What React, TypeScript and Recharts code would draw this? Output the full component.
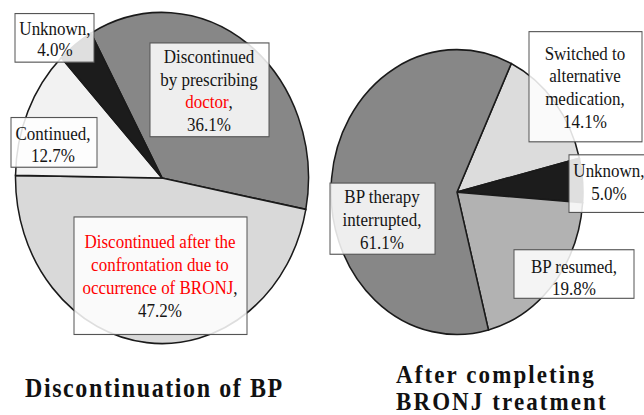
import React from 'react';
import { PieChart, Pie, Cell } from 'recharts';

// ---------- data ----------
const leftNames = [
  'Discontinued by prescribing doctor',
  'Discontinued after the confrontation due to occurrence of BRONJ',
  'Continued',
  'Unknown',
];
const leftValues = [36.1, 47.2, 12.7, 4.0];

const rightNames = [
  'Switched to alternative medication',
  'Unknown',
  'BP resumed',
  'BP therapy interrupted',
];
const rightValues = [14.1, 5.0, 19.8, 61.1];

const leftTitleLines = ['Discontinuation of BP'];
const rightTitleLines = ['After completing', 'BRONJ treatment'];

// label text lines (segments: [text, highlighted])
type Seg = [string, boolean];
const leftLabelLines: Seg[][][] = [
  [[['Discontinued', false]], [['by prescribing', false]], [['doctor', true], [',', false]]],
  [[['Discontinued after the', true]], [['confrontation due to', true]], [['occurrence of BRONJ', true], [',', false]]],
  [[['Continued,', false]]],
  [[['Unknown,', false]]],
];
const rightLabelLines: Seg[][][] = [
  [[['Switched to', false]], [['alternative', false]], [['medication,', false]]],
  [[['Unknown,', false]]],
  [[['BP resumed,', false]]],
  [[['BP therapy', false]], [['interrupted,', false]]],
];

// ---------- styles / layout ----------
const leftColors = ['#878787', '#d9d9d9', '#f2f2f2', '#1c1c1c'];
const rightColors = ['#dcdcdc', '#1c1c1c', '#b2b2b2', '#878787'];

const W = 644;
const H = 367;
const SCALE_Y = 1.13;
const FONT = "'Liberation Serif', 'Times New Roman', Tinos, 'DejaVu Serif', serif";
const fontStyle: React.CSSProperties = { fontFamily: FONT };

const L = { cx: 162, cy: 157.5, r: 146.5, start: 119 };
const R = { cx: 457, cy: 170, r: 126, start: 64.5 };

type Box = { dx: number; dy: number; w: number; h: number; tx: number; fy: number; lh: number };
const leftBoxes: Box[] = [
  { dx: -12, dy: -119.5, w: 119, h: 83, tx: 47, fy: -101.5, lh: 20 },
  { dx: -88, dy: 34.5, w: 173, h: 104, tx: -2, fy: 62, lh: 20.3 },
  { dx: -151, dy: -53.5, w: 86, h: 44, tx: -109, fy: -33.5, lh: 19 },
  { dx: -147, dy: -145.5, w: 79, h: 43, tx: -107, fy: -126.5, lh: 19 },
];
const rightBoxes: Box[] = [
  { dx: 72, dy: -142, w: 113, h: 97.5, tx: 128, fy: -117, lh: 20 },
  { dx: 112, dy: -33, w: 85, h: 51, tx: 152, fy: -13, lh: 20 },
  { dx: 57, dy: 51, w: 120, h: 43, tx: 117, fy: 72, lh: 19 },
  { dx: -127, dy: -8, w: 105, h: 63, tx: -75, fy: 10, lh: 20 },
];

const leftData = leftNames.map((name, i) => ({ name, value: leftValues[i] }));
const rightData = rightNames.map((name, i) => ({ name, value: rightValues[i] }));

const makeLabel =
  (center: { cx: number; cy: number }, boxes: Box[], lines: Seg[][][], values: number[]) =>
  (props: any) => {
    const index = props.index as number;
    const b = boxes[index];
    const all: Seg[][] = [...lines[index], [[`${values[index].toFixed(1)}%`, false]]];
    return (
      <g key={`lab-${index}`}>
        <rect
          x={center.cx + b.dx}
          y={center.cy + b.dy}
          width={b.w}
          height={b.h}
          fill="#ffffff"
          fillOpacity={0.86}
          stroke="#555555"
          strokeWidth={1}
        />
        <text textAnchor="middle" fontFamily={FONT} style={fontStyle} fontSize={17} fill="#151515">
          {all.map((segs, i) => (
            <tspan key={i} x={center.cx + b.tx} y={center.cy + b.fy + i * b.lh}>
              {segs.map(([t, red], j) => (
                <tspan key={j} fill={red ? '#ff0000' : '#151515'}>
                  {t}
                </tspan>
              ))}
            </tspan>
          ))}
        </text>
      </g>
    );
  };

export default function App() {
  return (
    <div
      style={{
        position: 'absolute',
        left: 0,
        top: 0,
        width: W,
        height: H,
        transform: `scaleY(${SCALE_Y})`,
        transformOrigin: '0 0',
        background: '#ffffff',
        fontFamily: FONT,
      }}
    >
      <PieChart width={W} height={H} margin={{ top: 0, right: 0, bottom: 0, left: 0 }}>
        <Pie
          data={leftData}
          dataKey="value"
          nameKey="name"
          cx={L.cx}
          cy={L.cy}
          outerRadius={L.r}
          startAngle={L.start}
          endAngle={L.start - 360}
          stroke="#1a1a1a"
          strokeWidth={1.5}
          labelLine={false}
          label={makeLabel(L, leftBoxes, leftLabelLines, leftValues)}
          isAnimationActive={false}
        >
          {leftData.map((d, i) => (
            <Cell key={d.name} fill={leftColors[i]} />
          ))}
        </Pie>
        <Pie
          data={rightData}
          dataKey="value"
          nameKey="name"
          cx={R.cx}
          cy={R.cy}
          outerRadius={R.r}
          startAngle={R.start}
          endAngle={R.start - 360}
          stroke="#1a1a1a"
          strokeWidth={1.5}
          labelLine={false}
          label={makeLabel(R, rightBoxes, rightLabelLines, rightValues)}
          isAnimationActive={false}
        >
          {rightData.map((d, i) => (
            <Cell key={d.name} fill={rightColors[i]} />
          ))}
        </Pie>
        <text
          x={25}
          y={351}
          fontFamily={FONT}
          style={fontStyle}
          fontSize={24}
          fontWeight="bold"
          letterSpacing={1.6}
          fill="#111111"
        >
          {leftTitleLines[0]}
        </text>
        <text
          fontFamily={FONT}
          style={fontStyle}
          fontSize={23}
          fontWeight="bold"
          letterSpacing={2.1}
          fill="#111111"
        >
          {rightTitleLines.map((t, i) => (
            <tspan key={t} x={396} y={339 + i * 24}>
              {t}
            </tspan>
          ))}
        </text>
      </PieChart>
    </div>
  );
}
